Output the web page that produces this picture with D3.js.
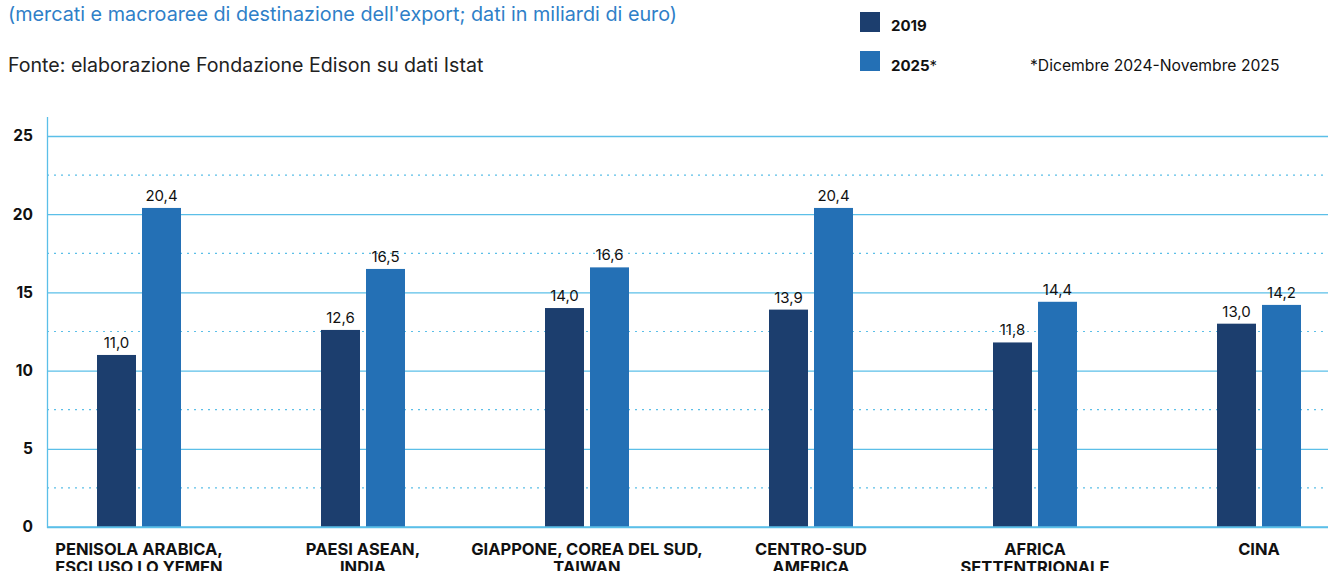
<!DOCTYPE html>
<html><head><meta charset="utf-8">
<script src="https://cdn.jsdelivr.net/npm/d3@7"></script>
<style>body{margin:0;background:#fff;}svg{display:block;}</style>
</head><body>
<svg id="chart" width="1328" height="571"></svg>
<script>
const categories = [
  ["PENISOLA ARABICA,", "ESCLUSO LO YEMEN"],
  ["PAESI ASEAN,", "INDIA"],
  ["GIAPPONE, COREA DEL SUD,", "TAIWAN"],
  ["CENTRO-SUD", "AMERICA"],
  ["AFRICA", "SETTENTRIONALE"],
  ["CINA"]
];
const series2019 = [11.0, 12.6, 14.0, 13.9, 11.8, 13.0];
const series2025 = [20.4, 16.5, 16.6, 20.4, 14.4, 14.2];
const seriesNames = ["2019", "2025"];
const yTicks = [0, 5, 10, 15, 20, 25];
const yMinorTicks = [2.5, 7.5, 12.5, 17.5, 22.5];

const svg = d3.select("#chart");
const colors = ["#1c3e6e", "#2470b5"];
const gridColor = "#5bbfe8";
const font = "Inter, Roboto, 'Liberation Sans', sans-serif";

const catKeys = categories.map((c, i) => "c" + i);
const x = d3.scalePoint().domain(catKeys).range([139, 1259]);
const y = d3.scaleLinear().domain([0, 25]).range([527, 136]);
const barW = 39, off = 22.5;

// titles
svg.append("text").attr("x", 8).attr("y", 21).attr("font-family", font).attr("font-size", 19.8)
  .attr("fill", "#2f7fc8").text("(mercati e macroaree di destinazione dell'export; dati in miliardi di euro)");
svg.append("text").attr("x", 8).attr("y", 72).attr("font-family", font).attr("font-size", 19.6)
  .attr("fill", "#222").text("Fonte: elaborazione Fondazione Edison su dati Istat");

// legend
const leg = [[12, 31], [51, 71]];
seriesNames.forEach((n, i) => {
  svg.append("rect").attr("x", 860).attr("y", leg[i][0]).attr("width", 20).attr("height", 20).attr("fill", colors[i]);
  const t = svg.append("text").attr("x", 891).attr("y", leg[i][1]).attr("font-family", font).attr("font-size", 15)
    .attr("font-weight", 700).attr("fill", "#111").text(n);
  if (i === 1) t.append("tspan").attr("font-weight", 400).text("*");
});
svg.append("text").attr("x", 1030).attr("y", 71).attr("font-family", font).attr("font-size", 15.7)
  .attr("fill", "#111").text("*Dicembre 2024-Novembre 2025");

// gridlines
svg.append("g").selectAll("line").data(yMinorTicks).join("line")
  .attr("x1", 47).attr("x2", 1328).attr("y1", d => y(d)).attr("y2", d => y(d))
  .attr("stroke", gridColor).attr("stroke-width", 1.2).attr("stroke-dasharray", "2,5");
const yAxis = d3.axisLeft(y).tickValues(yTicks).tickSize(-(1328 - 47)).tickFormat(d3.format("d"));
const ga = svg.append("g").attr("transform", "translate(47,0)").call(yAxis);
ga.select(".domain").remove();
ga.selectAll(".tick line").attr("stroke", gridColor).attr("stroke-width", 1.3);
ga.selectAll(".tick text").attr("x", -14).attr("dy", "0.32em").attr("font-family", font)
  .attr("font-size", 15.5).attr("font-weight", 700).attr("fill", "#111");
svg.append("line").attr("x1", 47.5).attr("x2", 47.5).attr("y1", 117).attr("y2", 528)
  .attr("stroke", gridColor).attr("stroke-width", 1.3);

// bars
[series2019, series2025].forEach((vals, s) => {
  const g = svg.append("g");
  g.selectAll("rect").data(vals).join("rect")
    .attr("x", (d, i) => x(catKeys[i]) + (s === 0 ? -off : off) - barW / 2)
    .attr("y", d => y(d)).attr("width", barW).attr("height", d => y(0) - y(d))
    .attr("fill", colors[s]);
  g.selectAll("text").data(vals).join("text")
    .attr("x", (d, i) => x(catKeys[i]) + (s === 0 ? -off : off))
    .attr("y", d => y(d) - 7).attr("text-anchor", "middle")
    .attr("font-family", font).attr("font-size", 15).attr("fill", "#111")
    .text(d => d.toFixed(1).replace(".", ","));
});
svg.append("line").attr("x1", 47).attr("x2", 1328).attr("y1", y(0)).attr("y2", y(0))
  .attr("stroke", gridColor).attr("stroke-width", 1.5);

// category labels
categories.forEach((lines, i) => {
  const t = svg.append("text").attr("text-anchor", "middle").attr("font-family", font)
    .attr("font-size", 16.5).attr("font-weight", 700).attr("fill", "#111");
  lines.forEach((l, j) => {
    t.append("tspan").attr("x", x(catKeys[i])).attr("y", 555 + j * 18).text(l);
  });
});
</script>
</body></html>
